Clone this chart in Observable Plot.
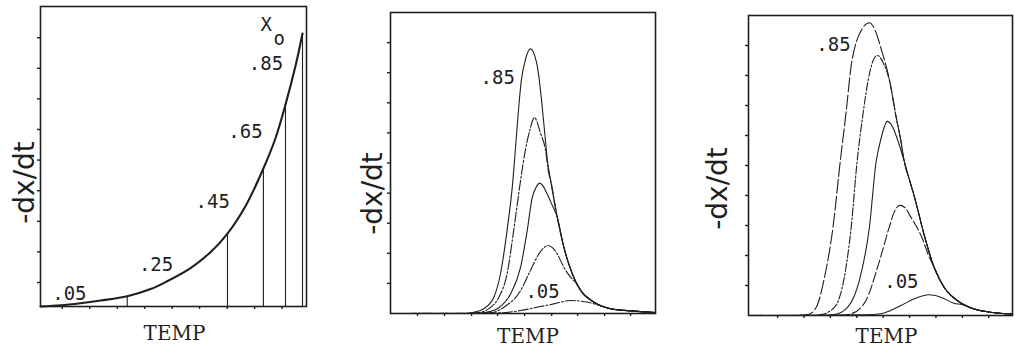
<!DOCTYPE html>
<html><head><meta charset="utf-8">
<script src="https://cdn.jsdelivr.net/npm/d3@7"></script>
<script src="https://cdn.jsdelivr.net/npm/@observablehq/plot@0.6"></script>
<style>
html,body{margin:0;padding:0;background:#fff;}
#wrap{position:relative;width:1015px;height:348px;overflow:hidden;background:#fff;}
#wrap > svg{position:absolute;top:0;}
</style></head><body><div id="wrap"></div>
<script>
// ---------- Data (TEMP and -dx/dt in arbitrary units, 0-100) ----------
const xAxisTitle = "TEMP";
const yAxisTitle = "-dx/dt";
const xoLabels = [".05", ".25", ".45", ".65", ".85"];

// Panel 1: envelope curve and starting points for each X0
const p1Temp = [0, 7.5, 15, 22.6, 32.6, 41.4, 47.6, 56.4, 63.9, 70.3, 77.1, 83.8, 88.3, 92.1, 95.9, 98.5];
const p1Rate = [0, 0.4, 1.1, 2.0, 3.4, 5.8, 8.4, 12.8, 18.1, 24.3, 33.5, 46, 56, 67.3, 80.3, 91];
const p1StartTemp = [32.6, 70.3, 83.8, 92.1, 98.5];
const p1StartRate = [3.4, 24.3, 46, 67.3, 91];
const p1LabelTemp = [4.4, 37, 58.3, 70.6, 78.3];
const p1LabelRate = [4.2, 13.7, 34.8, 58.1, 80.9];
const p1TicksX = [8.2, 18.5, 28.9, 39.2, 49.5, 59.8, 70.2, 80.5, 90.8];
const p1TicksY = [8, 18.2, 28.4, 38.6, 48.8, 59, 69.2, 79.4, 89.6];

// Panel 2
const p2Temp85 = [0, 27, 31.4, 35.2, 39, 41.5, 44, 46.2, 47.2, 48.4, 49.4, 50.9, 52.8, 55.4, 57, 58.1, 59.2, 60.4, 62.9, 65.4, 68.6, 71.7, 76.7, 83, 91.8, 100];
const p2Rate85 = [0, 0, 0.4, 1.6, 5.4, 13.2, 27.7, 44.3, 55.4, 68.7, 77.6, 84.3, 87.9, 82.1, 70.9, 60.9, 50.9, 44.3, 32.1, 22.1, 13.2, 7.7, 3.8, 1.6, 0.8, 0.3];
const p2Temp65 = [0, 29, 33.2, 37.1, 40.9, 44, 46.5, 49.1, 50.9, 52.6, 54.3, 56.6, 58.5, 59.7, 60.4, 62.9, 65.4, 68.6, 71.7, 76.7, 83, 91.8, 100];
const p2Rate65 = [0, 0, 0.3, 1.6, 5.4, 13.2, 27.7, 44.3, 54.3, 61, 65.1, 59.9, 54.3, 46.6, 44.3, 32.1, 22.1, 13.2, 7.7, 3.8, 1.6, 0.8, 0.3];
const p2Temp45 = [0, 31, 35.5, 40.3, 45.3, 49.1, 51.6, 53.5, 55, 56.3, 57.6, 59.1, 61, 62.9, 65.4, 68.6, 71.7, 76.7, 83, 91.8, 100];
const p2Rate45 = [0, 0, 0.3, 1.6, 6.5, 15.4, 27.6, 38.6, 42, 43.3, 42.3, 39.8, 36, 32.1, 22.1, 13.2, 7.7, 3.8, 1.6, 0.8, 0.3];
const p2Temp25 = [0, 33, 37.7, 42.8, 49.1, 52.8, 56, 57.8, 59.4, 61.2, 62.9, 65.4, 67.5, 70, 71.7, 76.7, 83, 91.8, 100];
const p2Rate25 = [0, 0, 0.2, 2.1, 7.6, 14.3, 19.8, 21.8, 22.6, 21.8, 19.8, 15.4, 12.6, 10.1, 7.9, 3.8, 1.6, 0.8, 0.3];
const p2Temp05 = [0, 41.5, 49.1, 56.6, 61.6, 67.9, 74.2, 78, 83, 91.8, 100];
const p2Rate05 = [0, 0.2, 1, 2.3, 3.2, 4.3, 3.8, 2.9, 1.6, 0.8, 0.3];
const p2LabelTemp = [50.9, 34];
const p2LabelRate = [7.1, 78.3];
const p2TicksX = [10.2, 20.4, 30.6, 40.4, 50.6, 60.8, 70.6, 80.8, 90.6];
const p2TicksY = [10, 20, 30, 40, 50, 60, 70, 80, 90];

// Panel 3
const p3Temp85 = [0, 18, 22.5, 25.7, 28.8, 32, 34.8, 37, 38.9, 40.8, 43, 45.8, 48, 50.2, 53.6, 55.8, 57.7, 58.9, 60.8, 62.8, 66.5, 70.3, 74.1, 79.1, 85.4, 91.7, 100];
const p3Rate85 = [0, 0, 0.3, 2.8, 12.8, 29.4, 51.7, 68, 83.3, 91.1, 95.5, 97.6, 95, 89, 77.7, 66.7, 58.3, 51.7, 45.7, 39.7, 27, 16.1, 9.4, 5, 2.2, 1.1, 0.5];
const p3Temp65 = [0, 24, 27.5, 32.6, 36.3, 38.9, 41.1, 43.3, 45.2, 47, 48.7, 51, 53.6, 55.8, 57.7, 58.9, 60.8, 62.8, 66.5, 70.3, 74.1, 79.1, 85.4, 91.7, 100];
const p3Rate65 = [0, 0, 0.3, 2.8, 12.8, 29.4, 51, 66.7, 77.8, 84.5, 86.7, 84.3, 77.5, 66.7, 58.3, 51.7, 45.7, 39.7, 27, 16.1, 9.4, 5, 2.2, 1.1, 0.5];
const p3Temp45 = [0, 28, 32.5, 37.6, 42, 45.8, 48.3, 50.2, 51.5, 52.5, 54.5, 56.5, 58.9, 60.8, 62.8, 66.5, 70.3, 74.1, 79.1, 85.4, 91.7, 100];
const p3Rate45 = [0, 0, 0.3, 2.8, 11.7, 29.4, 51, 59, 63, 64.7, 63, 58.5, 51.7, 45.7, 39.7, 27, 16.1, 9.4, 5, 2.2, 1.1, 0.5];
const p3Temp25 = [0, 34, 38.9, 44.5, 48.9, 53.3, 55.1, 57.4, 59.2, 61.5, 65.9, 68, 70.3, 74.1, 79.1, 85.4, 91.7, 100];
const p3Rate25 = [0, 0, 0.6, 5, 16.1, 29.4, 34.3, 36.7, 36, 32.8, 25.5, 20.5, 16.1, 9.4, 5, 2.2, 1.1, 0.5];
const p3Temp05 = [0, 44.5, 50.2, 57.7, 62.8, 68.4, 72.8, 77.8, 81, 85.4, 91.7, 100];
const p3Rate05 = [0, 0.2, 0.6, 3.3, 5.6, 6.9, 6.1, 4.1, 3.6, 2.2, 1.1, 0.5];
const p3LabelTemp = [51.4, 25.7];
const p3LabelRate = [11.1, 90.2];
const p3TicksX = [11, 21, 31, 41, 51, 61, 71, 81, 91];
const p3TicksY = [10, 20, 30, 40, 50, 60, 70, 80, 90];

// ---------- Drawing ----------
const ink = "#1f1f1f";
const numFont = "DejaVu Sans Mono";
const rows = (xs, ys) => xs.map((x, i) => ({temp: x, rate: ys[i]}));
const labelRows = (xs, ys, ts) => xs.map((x, i) => ({temp: x, rate: ys[i], text: ts[i]}));

function panel(o) {
  const marks = [
    Plot.frame({stroke: ink, strokeWidth: 1.6}),
    Plot.axisX(o.ticksX, {tickSize: 3, tickFormat: () => "", label: null, strokeWidth: 1.4}),
    Plot.axisY(o.ticksY, {tickSize: 3, tickFormat: () => "", label: null, strokeWidth: 1.4}),
    ...o.curves.map(c => Plot.line(rows(c.x, c.y), {
      x: "temp", y: "rate", curve: c.curve || "monotone-x", stroke: ink,
      strokeWidth: c.w, strokeDasharray: c.dash
    })),
    ...(o.extra || []),
    Plot.text(o.labels, {x: "temp", y: "rate", text: "text", textAnchor: "start", lineAnchor: "middle",
      fontFamily: numFont, fontSize: 19, fill: ink}),
    Plot.text([xAxisTitle], {text: d => d, frameAnchor: "bottom", textAnchor: "middle", lineAnchor: "middle",
      dx: o.tdx, dy: o.tdy, fontFamily: "DejaVu Serif", fontSize: 20, fill: ink}),
    Plot.text([yAxisTitle], {text: d => d, frameAnchor: "left", rotate: -90, textAnchor: "middle", lineAnchor: "middle",
      dx: o.ydx, dy: o.ydy, fontFamily: "DejaVu Sans", fontSize: 28, fill: ink})
  ];
  const svg = Plot.plot({
    width: o.width, height: 348,
    marginLeft: o.ml, marginRight: o.mr, marginTop: o.mt, marginBottom: o.mb,
    x: {domain: [0, 100]}, y: {domain: [0, 100]},
    style: {background: "transparent", color: ink, overflow: "visible"},
    marks
  });
  svg.style.left = o.left + "px";
  return svg;
}

const wrap = document.getElementById("wrap");

wrap.appendChild(panel({
  left: 0, width: 330, ml: 40, mr: 24, mt: 6, mb: 42,
  ticksX: p1TicksX, ticksY: p1TicksY,
  curves: [{x: p1Temp, y: p1Rate, w: 2.1, dash: null, curve: "catmull-rom"}],
  extra: [
    Plot.ruleX(rows(p1StartTemp, p1StartRate), {x: "temp", y1: 0, y2: "rate", stroke: ink, strokeWidth: 1.1}),
    Plot.text(["X"], {text: d => d, x: 82.7, y: 93.7, textAnchor: "start", lineAnchor: "middle", fontFamily: numFont, fontSize: 19, fill: ink}),
    Plot.text(["o"], {text: d => d, x: 87.6, y: 89.3, textAnchor: "start", lineAnchor: "middle", fontFamily: numFont, fontSize: 19, fill: ink})
  ],
  labels: labelRows(p1LabelTemp, p1LabelRate, xoLabels),
  tdx: 1, tdy: 27.5, ydx: -15, ydy: 26
}));

wrap.appendChild(panel({
  left: 340, width: 330, ml: 50, mr: 15, mt: 12, mb: 35,
  ticksX: p2TicksX, ticksY: p2TicksY,
  curves: [
    {x: p2Temp85, y: p2Rate85, w: 1.1, dash: null},
    {x: p2Temp65, y: p2Rate65, w: 1.1, dash: "10,2,2,2"},
    {x: p2Temp45, y: p2Rate45, w: 1.1, dash: null},
    {x: p2Temp25, y: p2Rate25, w: 1.1, dash: "10,2,2,2"},
    {x: p2Temp05, y: p2Rate05, w: 1.1, dash: "10,2,2,2"}
  ],
  labels: labelRows(p2LabelTemp, p2LabelRate, [xoLabels[0], xoLabels[4]]),
  tdx: 5, tdy: 23, ydx: -17, ydy: 30.5
}));

wrap.appendChild(panel({
  left: 680, width: 335, ml: 68, mr: 3, mt: 15, mb: 33,
  ticksX: p3TicksX, ticksY: p3TicksY,
  curves: [
    {x: p3Temp85, y: p3Rate85, w: 1.1, dash: "14,3"},
    {x: p3Temp65, y: p3Rate65, w: 1.1, dash: "8,2,2,2"},
    {x: p3Temp45, y: p3Rate45, w: 1.1, dash: null},
    {x: p3Temp25, y: p3Rate25, w: 1.1, dash: "10,3"},
    {x: p3Temp05, y: p3Rate05, w: 1.1, dash: null}
  ],
  labels: labelRows(p3LabelTemp, p3LabelRate, [xoLabels[0], xoLabels[4]]),
  tdx: 6, tdy: 21.5, ydx: -30, ydy: 23
}));
</script></body></html>
